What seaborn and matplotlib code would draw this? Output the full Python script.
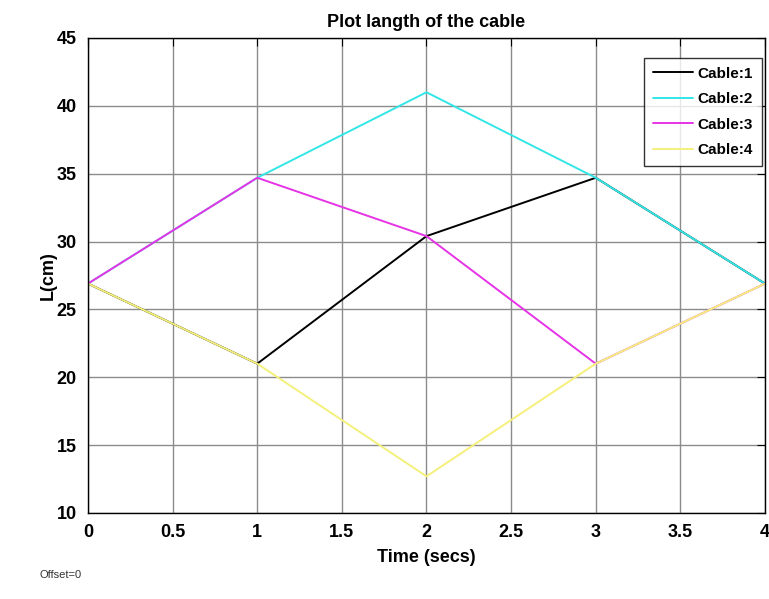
import pandas as pd
import matplotlib
matplotlib.use("Agg")
import matplotlib.pyplot as plt
import seaborn as sns

sns.set_style("white")
plt.rcParams['font.family'] = ['Liberation Sans Narrow', 'Liberation Sans', 'DejaVu Sans']
plt.rcParams['text.color'] = 'black'
plt.rcParams['axes.labelcolor'] = 'black'
plt.rcParams['xtick.color'] = 'black'
plt.rcParams['ytick.color'] = 'black'

# data
time = [0, 1, 2, 3, 4]
cable1 = [26.9, 21.0, 30.4, 34.7, 26.9]
cable2 = [26.9, 34.7, 41.0, 34.7, 26.9]
cable3 = [26.9, 34.7, 30.4, 21.0, 26.9]
cable4 = [26.9, 21.0, 12.7, 21.0, 26.9]
names = ['Cable:1', 'Cable:2', 'Cable:3', 'Cable:4']
colors = ['#000000', '#33e6e6', '#e633e6', '#f5f07a']

frames = []
for name, vals in zip(names, [cable1, cable2, cable3, cable4]):
    frames.append(pd.DataFrame({'Time': time, 'L': vals, 'Cable': name}))
df = pd.concat(frames, ignore_index=True)

fig = plt.figure(figsize=(7.69, 5.99), dpi=100)
ax = fig.add_axes([0.1144, 0.1436, 0.8804, 0.793])

sns.lineplot(data=df, x='Time', y='L', hue='Cable', palette=dict(zip(names, colors)),
             linewidth=1.4, ax=ax, sort=False)

ax.set_xlim(0, 4)
ax.set_ylim(10, 45)
ax.set_xticks([0, 0.5, 1, 1.5, 2, 2.5, 3, 3.5, 4])
ax.set_xticklabels(['0', '0.5', '1', '1.5', '2', '2.5', '3', '3.5', '4'])
ax.set_yticks([10, 15, 20, 25, 30, 35, 40, 45])
ax.grid(True, color='#8c8c8c', linewidth=1.0)
ax.set_axisbelow(True)
for s in ax.spines.values():
    s.set_color('black')
    s.set_linewidth(1.0)
ax.tick_params(direction='in', length=6, top=True, right=True, color='black', pad=8)
for lab in ax.get_xticklabels() + ax.get_yticklabels():
    lab.set_fontweight('bold')
    lab.set_fontsize(13)

ax.set_title('Plot langth of the cable', fontsize=13, fontweight='bold', pad=8)
ax.set_xlabel('Time (secs)', fontsize=13, fontweight='bold', labelpad=6)
ax.set_ylabel('L(cm)', fontsize=13, fontweight='bold', family=['Liberation Sans', 'DejaVu Sans'], labelpad=0)

leg = ax.legend(loc='upper right', bbox_to_anchor=(1.0, 0.965), fontsize=11, frameon=True,
                fancybox=False, edgecolor='black', handlelength=2.6, handletextpad=0.3,
                borderpad=0.6, labelspacing=0.75, borderaxespad=0.2)
leg.get_frame().set_linewidth(1.0)
for t in leg.get_texts():
    t.set_fontweight('bold')

fig.text(0.052, 0.035, 'Offset=0', fontsize=8, color='#333333')

fig.savefig('out.png', dpi=100)
